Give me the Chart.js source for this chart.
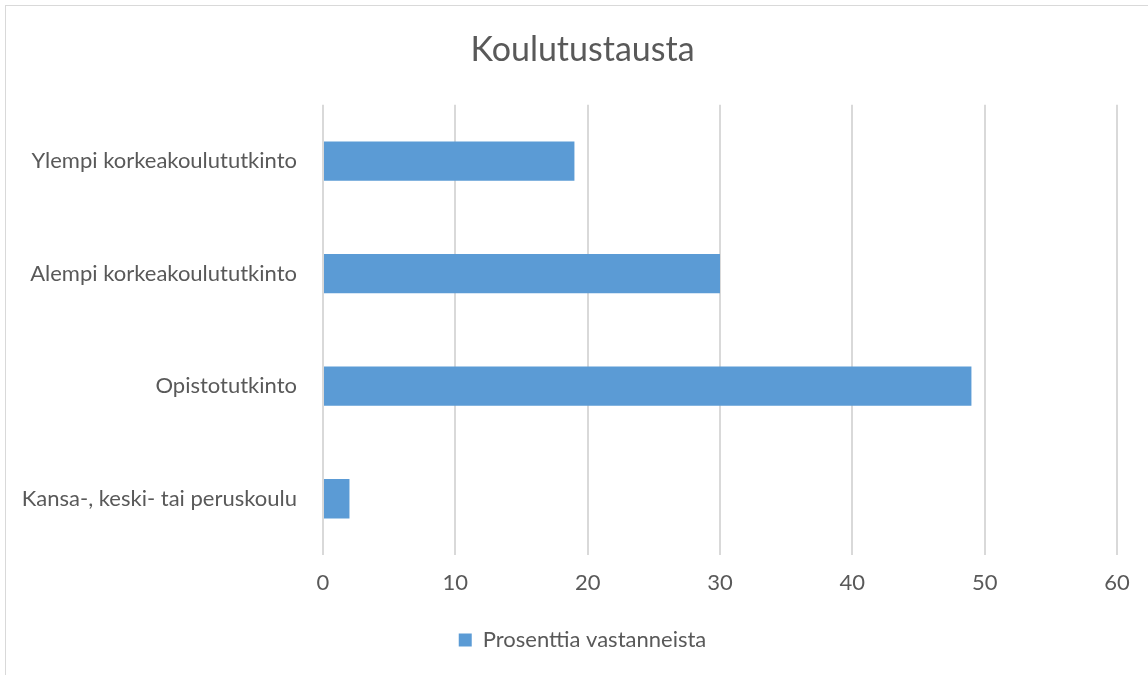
<!DOCTYPE html>
<html>
<head>
<meta charset="utf-8">
<script src="https://cdn.jsdelivr.net/npm/chart.js@4"></script>
<style>
  html, body { margin: 0; padding: 0; background: #fff; overflow: hidden; }
  #wrap { position: absolute; left: 0; top: 0; width: 1148px; height: 675px; overflow: hidden; }
  #frame { position: absolute; left: 5px; top: 5px; width: 1200px; height: 700px; border: 1px solid #d9d9d9; box-sizing: border-box; }
  canvas { position: absolute; left: 0; top: 0; }
</style>
</head>
<body>
<div id="wrap">
  <div id="frame"></div>
  <canvas id="chart" width="1165" height="675"></canvas>
</div>
<script>
let categories = ["Ylempi korkeakoulututkinto", "Alempi korkeakoulututkinto", "Opistotutkinto", "Kansa-, keski- tai peruskoulu"];
let values = [19, 30, 49, 2];
let seriesName = "Prosenttia vastanneista";
let xTicks = [0, 10, 20, 30, 40, 50, 60];

let textColor = "#595959";
let fontName = "Lato, 'Open Sans', sans-serif";

var ctx = document.getElementById("chart").getContext("2d");
var chart = new Chart(ctx, {
  type: "bar",
  data: {
    labels: categories,
    datasets: [
      {
        label: seriesName,
        data: values,
        backgroundColor: "#5b9bd5",
        borderWidth: 0,
        barPercentage: 0.35,
        categoryPercentage: 1.0,
      },
    ],
  },
  options: {
    indexAxis: "y",
    responsive: false,
    animation: false,
    layout: { padding: { left: 0, right: 0, top: 0, bottom: 14 } },
    plugins: {
      title: {
        display: true,
        text: "Koulutustausta",
        color: textColor,
        font: { family: fontName, size: 34, weight: "normal" },
        padding: { top: 30, bottom: 34 },
      },
      legend: {
        position: "bottom",
        labels: {
          color: textColor,
          font: { family: fontName, size: 22 },
          boxWidth: 13,
          boxHeight: 13,
          padding: 10,
        },
      },
      tooltip: { enabled: false },
    },
    scales: {
      x: {
        min: 0,
        max: 60,
        afterBuildTicks: function (scale) {
          scale.ticks = xTicks.map(function (v) { return { value: v }; });
        },
        afterFit: function (scale) { scale.height = 64; },
        grid: { color: "#d9d9d9", lineWidth: 2, drawTicks: false },
        border: { display: false },
        ticks: {
          color: textColor,
          font: { family: fontName, size: 22 },
          padding: 15,
        },
      },
      y: {
        afterFit: function (scale) { scale.width = 323; },
        grid: { display: false },
        border: { display: false },
        ticks: {
          color: textColor,
          font: { family: fontName, size: 22 },
          padding: 18,
        },
      },
      // empty space to the right of the plot
      yRight: {
        type: "category",
        axis: "y",
        position: "right",
        afterFit: function (scale) { scale.width = 48; },
        grid: { display: false },
        border: { display: false },
        ticks: { display: false },
      },
    },
  },
});
</script>
</body>
</html>
